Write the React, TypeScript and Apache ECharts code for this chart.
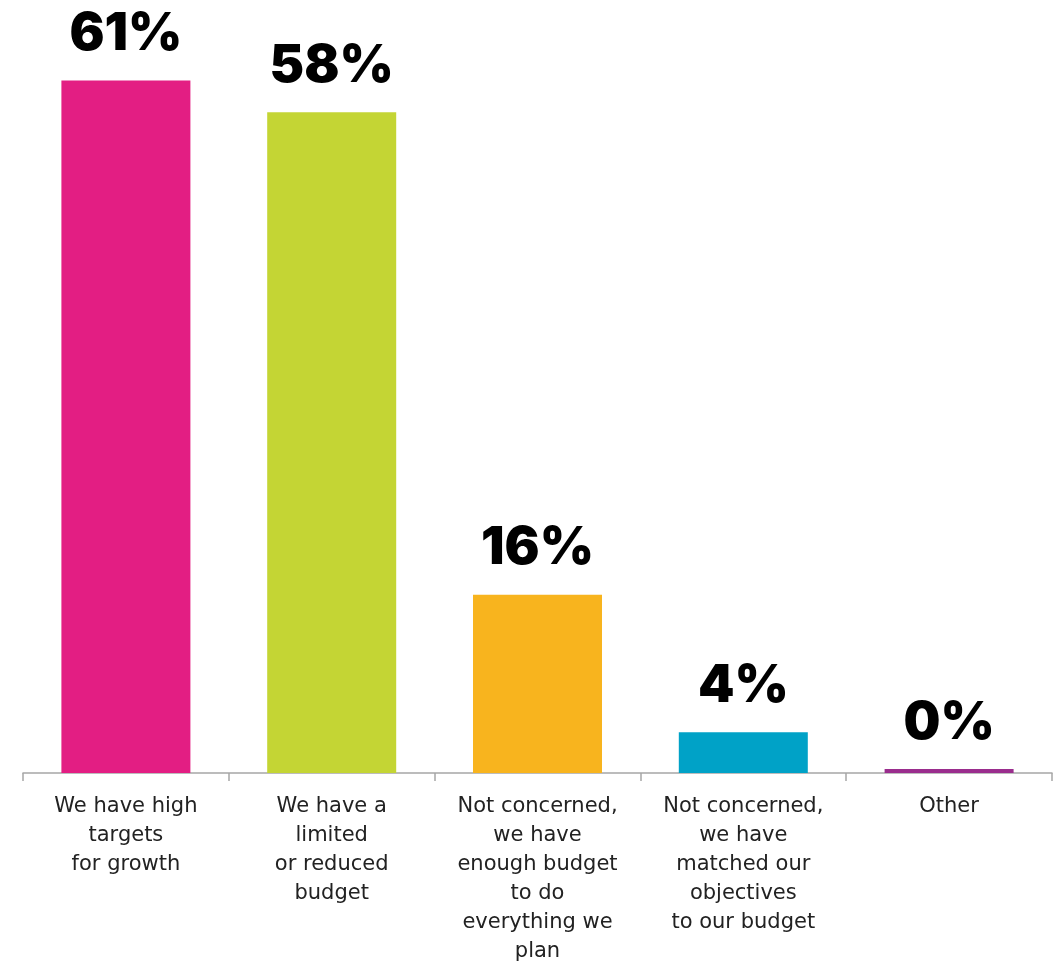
import React, { useEffect, useRef } from "react";
import * as echarts from "echarts";

const categories = [
  "We have high\ntargets\nfor growth",
  "We have a\nlimited\nor reduced\nbudget",
  "Not concerned,\nwe have\nenough budget\nto do\neverything we\nplan",
  "Not concerned,\nwe have\nmatched our\nobjectives\nto our budget",
  "Other",
];
const values = [61, 58.2, 15.7, 3.6, 0.35];
const labels = ["61%", "58%", "16%", "4%", "0%"];
const colors = ["#E31E83", "#C4D534", "#F8B41E", "#00A2C7", "#9A2D8D"];

export default function App() {
  const ref = useRef<HTMLDivElement>(null);
  useEffect(() => {
    const chart = echarts.init(ref.current!, null, { renderer: "svg" });
    chart.setOption({
      animation: false,
      grid: { left: 23, right: 4, top: 0, bottom: 188, containLabel: false },
      xAxis: {
        type: "category",
        data: categories,
        axisLine: { lineStyle: { color: "#A6A6A6", width: 1.5 } },
        axisTick: { show: true, length: 8, lineStyle: { color: "#A6A6A6", width: 1.5 } },
        axisLabel: {
          interval: 0,
          color: "#222222",
          fontFamily: "DejaVu Sans",
          fontSize: 21,
          lineHeight: 29,
          margin: 17,
        },
      },
      yAxis: {
        type: "value",
        min: 0,
        max: 68.1,
        show: false,
        splitLine: { show: false },
      },
      series: [
        {
          type: "bar",
          barWidth: 129,
          data: values.map((v, i) => ({
            value: v,
            itemStyle: { color: colors[i] },
          })),
          label: {
            show: true,
            position: "top",
            distance: 26,
            formatter: (p: any) => labels[p.dataIndex],
            color: "#000000",
            fontFamily: "Inter",
            fontWeight: 900,
            fontSize: 52,
            lineHeight: 46,
          },
        },
      ],
    });
    return () => chart.dispose();
  }, []);
  return (
    <div
      ref={ref}
      style={{ position: "fixed", left: 0, top: 0, width: 1056, height: 964 }}
    />
  );
}
